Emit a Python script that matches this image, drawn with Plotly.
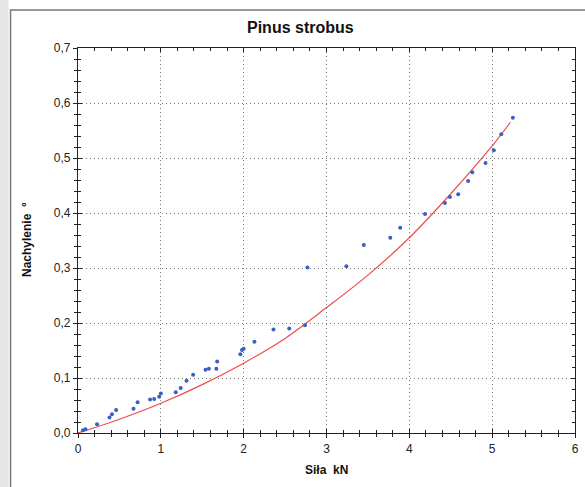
import plotly.graph_objects as go

# Measured points (Siła kN, Nachylenie °)
sila = [0.06, 0.09, 0.23, 0.38, 0.41, 0.46, 0.67, 0.72, 0.87, 0.92, 0.98, 1.00,
        1.18, 1.24, 1.31, 1.39, 1.54, 1.58, 1.67, 1.68, 1.96, 1.98, 2.00, 2.13,
        2.36, 2.55, 2.74, 2.77, 3.24, 3.45, 3.77, 3.89, 4.19, 4.43, 4.49, 4.59,
        4.71, 4.76, 4.92, 5.02, 5.11, 5.25]
nachylenie = [0.005, 0.007, 0.016, 0.028, 0.034, 0.042, 0.044, 0.056, 0.061, 0.062, 0.066, 0.072,
              0.074, 0.082, 0.095, 0.106, 0.115, 0.117, 0.117, 0.130, 0.143, 0.151, 0.153, 0.166,
              0.188, 0.190, 0.196, 0.301, 0.303, 0.342, 0.355, 0.373, 0.398, 0.418, 0.429, 0.434,
              0.458, 0.474, 0.491, 0.514, 0.543, 0.573]

# Fitted curve
fit_x = [0, 0.5, 1.0, 1.5, 2.0, 2.5, 3.0, 3.5, 4.0, 4.5, 5.0, 5.22]
fit_y = [0, 0.025, 0.054, 0.088, 0.127, 0.172, 0.228, 0.287, 0.355, 0.435, 0.522, 0.565]

x_ticks = [0, 1, 2, 3, 4, 5, 6]
y_ticks = [0.0, 0.1, 0.2, 0.3, 0.4, 0.5, 0.6, 0.7]

FONT = "Liberation Sans, Arial, sans-serif"

fig = go.Figure()
fig.add_trace(go.Scatter(x=fit_x, y=fit_y, mode="lines", line=dict(color="#f04a4a", width=1.2, shape="spline"),
                         showlegend=False, hoverinfo="skip"))
fig.add_trace(go.Scatter(x=sila, y=nachylenie, mode="markers",
                         marker=dict(color="#3a5fc0", size=4), showlegend=False))

axis_common = dict(showline=True, linecolor="#222", linewidth=1.2, zeroline=False)
GRID = dict(showgrid=True, gridcolor="#777", griddash="1px,3px", gridwidth=1)

fig.update_layout(
    width=585, height=487,
    margin=dict(l=78, r=6, t=48, b=54),
    paper_bgcolor="white", plot_bgcolor="white",
    separators=", ",
    font=dict(family=FONT, size=12, color="#222"),
    xaxis=dict(range=[0, 6], tickvals=x_ticks, ticks="outside", ticklen=4, tickwidth=1, tickcolor="#222",
               mirror=True, minor=dict(dtick=0.2, ticks="outside", ticklen=3, tickcolor="#222", showgrid=False),
               tickfont=dict(size=12), **GRID, **axis_common),
    yaxis=dict(range=[0, 0.7], tickvals=y_ticks, tickformat=".1f", ticks="outside", ticklen=4, tickwidth=1,
               tickcolor="#222", mirror=True,
               minor=dict(dtick=0.02, ticks="outside", ticklen=3, tickcolor="#222", showgrid=False),
               tickfont=dict(size=12), **GRID, **axis_common),
    xaxis2=dict(range=[0, 6], overlaying="x", tickvals=x_ticks, ticks="inside", ticklen=4, tickcolor="#222",
                showticklabels=False, showgrid=False, mirror="allticks", showline=False, zeroline=False,
                minor=dict(dtick=0.2, ticks="inside", ticklen=3, tickcolor="#222")),
    yaxis2=dict(range=[0, 0.7], overlaying="y", tickvals=y_ticks, ticks="inside", ticklen=4, tickcolor="#222",
                showticklabels=False, showgrid=False, mirror="allticks", showline=False, zeroline=False,
                minor=dict(dtick=0.02, ticks="inside", ticklen=3, tickcolor="#222")),
)

# invisible trace to activate overlay axes (inner half of crossing ticks)
fig.add_trace(go.Scatter(x=[None], y=[None], xaxis="x2", yaxis="y2", showlegend=False, hoverinfo="skip"))

fig.add_annotation(text="<b>Pinus strobus</b>", xref="paper", yref="paper", x=(302 - 78) / 501, y=1.0,
                   yanchor="middle", yshift=21, showarrow=False, font=dict(size=16, family=FONT, color="#111"))
fig.add_annotation(text="<b>Siła  kN</b>", xref="paper", yref="paper", x=(328 - 78) / 501, y=0,
                   yanchor="middle", yshift=-37, showarrow=False, font=dict(size=12, family=FONT, color="#111"))
fig.add_annotation(text="<b>Nachylenie  °</b>", xref="paper", yref="paper", x=0, xanchor="center", xshift=-51,
                   y=(433 - 240) / 385, textangle=-90, showarrow=False, font=dict(size=12, family=FONT, color="#111"))

# outer frame of the scanned figure
fig.add_shape(type="rect", xref="paper", yref="paper", x0=-68 / 501, x1=1.2, y0=-0.3, y1=1.0 + 38 / 385,
              line=dict(color="#777", width=1.5), fillcolor="rgba(0,0,0,0)", layer="below")
fig.add_shape(type="rect", xref="paper", yref="paper", x0=-78 / 501 - 0.01, x1=-70 / 501, y0=-0.3, y1=1.3,
              line=dict(width=0), fillcolor="#e6e6e6", layer="below")

fig.write_html("out.html", config={"displayModeBar": False},
               post_script="document.body.style.margin='0';")
